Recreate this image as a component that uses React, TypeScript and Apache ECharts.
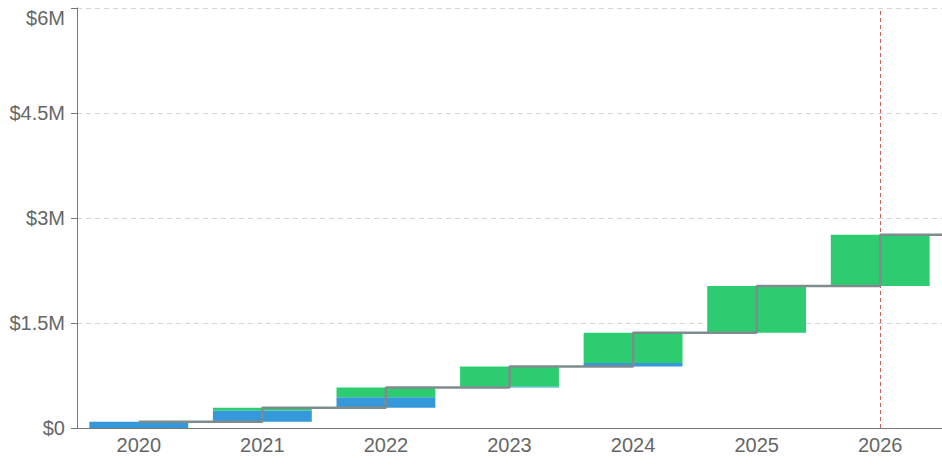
import React, { useEffect, useRef } from "react";
import * as echarts from "echarts";

const years = ["2020", "2021", "2022", "2023", "2024", "2025", "2026"];
const blueValues = [0.09, 0.16, 0.15, 0.01, 0.05, 0, 0]; // $M
const greenValues = [0, 0.04, 0.14, 0.29, 0.43, 0.67, 0.73]; // $M
const yTicks = [0, 1.5, 3, 4.5, 6];
const markerYear = "2026";

export default function App() {
  const ref = useRef<HTMLDivElement>(null);
  useEffect(() => {
    document.body.style.margin = "0";
    if (!ref.current) return;
    const chart = echarts.init(ref.current, null, { renderer: "svg" });

    const cumulative: number[] = [];
    const base: number[] = [];
    let run = 0;
    years.forEach((_, i) => {
      base.push(+run.toFixed(4));
      run += blueValues[i] + greenValues[i];
      cumulative.push(+run.toFixed(4));
    });
    const lineData: number[][] = cumulative.map((c, i) => [i, c]);
    lineData.push([years.length - 0.5, cumulative[cumulative.length - 1]]);

    const yMax = yTicks[yTicks.length - 1];
    const fmt = (v: number) => {
      const s = v === 0 ? "$0" : "$" + v + "M";
      return v === yMax ? "{top|" + s + "}" : s;
    };
    const font = "'Liberation Sans', Arial, sans-serif";

    chart.setOption({
      animation: false,
      grid: { left: 77, right: 0, top: 8, bottom: 37 },
      xAxis: [
        {
          type: "category",
          data: years,
          axisLine: { lineStyle: { color: "#777", width: 1 } },
          axisTick: { alignWithLabel: true, length: 6, lineStyle: { color: "#777" } },
          axisLabel: { color: "#666", fontSize: 20, fontFamily: font, margin: 7 },
        },
        {
          type: "value",
          min: -0.5,
          max: years.length - 0.5,
          show: false,
        },
      ],
      yAxis: {
        type: "value",
        min: yTicks[0],
        max: yMax,
        interval: 1.5,
        axisLine: { show: true, onZero: false, lineStyle: { color: "#777", width: 1 } },
        axisTick: { show: true, length: 6, lineStyle: { color: "#777" } },
        axisLabel: {
          color: "#666",
          fontSize: 20,
          fontFamily: font,
          margin: 12,
          formatter: fmt,
          rich: {
            top: { color: "#666", fontSize: 20, fontFamily: font, padding: [19, 0, 0, 0] },
          },
        },
        splitLine: { lineStyle: { color: "#d5d5d5", type: [5, 4], width: 1 } },
      },
      series: [
        {
          type: "bar",
          stack: "w",
          data: base,
          barWidth: "80%",
          itemStyle: { color: "transparent" },
          silent: true,
        },
        {
          type: "bar",
          stack: "w",
          data: blueValues,
          barWidth: "80%",
          itemStyle: { color: "#3498db" },
        },
        {
          type: "bar",
          stack: "w",
          data: greenValues,
          barWidth: "80%",
          itemStyle: { color: "#2ecc71" },
          markLine: {
            symbol: "none",
            silent: true,
            label: { show: false },
            lineStyle: { color: "#c0392b", type: [4, 3], width: 1, opacity: 0.8 },
            data: [{ xAxis: markerYear }],
          },
        },
        {
          type: "line",
          xAxisIndex: 1,
          data: lineData,
          step: "end",
          symbol: "none",
          lineStyle: { color: "#7f8c8d", width: 2.5 },
          z: 5,
        },
      ],
    });
    return () => chart.dispose();
  }, []);
  return <div ref={ref} style={{ width: 942, height: 465 }} />;
}
